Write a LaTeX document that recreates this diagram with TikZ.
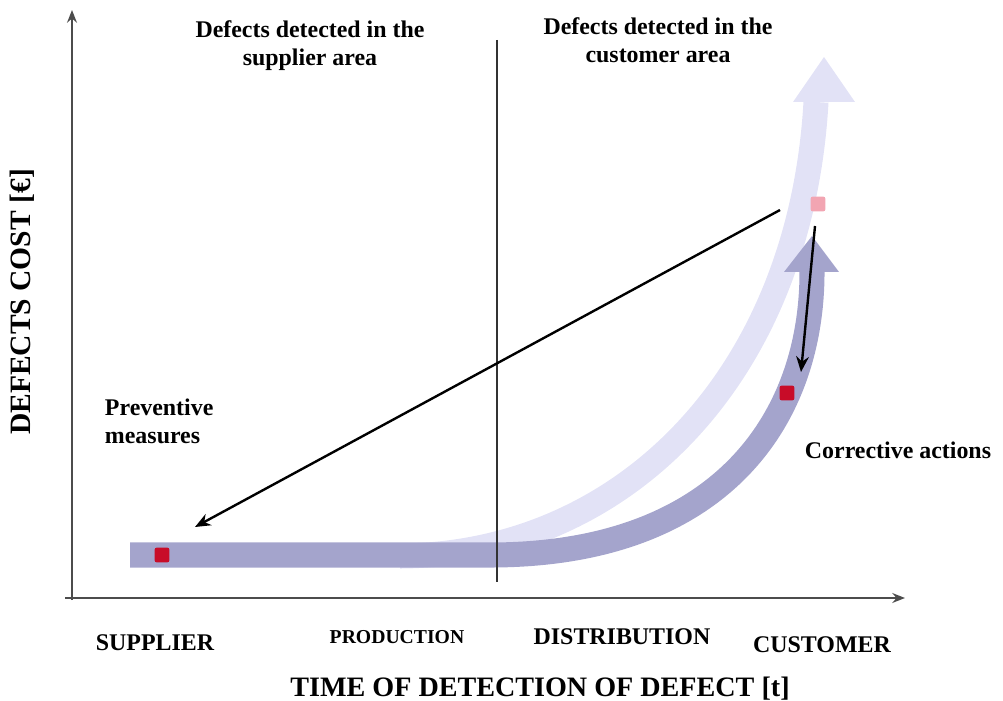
\documentclass[tikz,border=0pt]{standalone}
\usepackage{fontspec}
\setmainfont{Liberation Serif}
\usetikzlibrary{arrows.meta}
\definecolor{bandlight}{RGB}{226,226,246}
\definecolor{banddark}{RGB}{164,164,204}
\definecolor{defred}{RGB}{200,12,40}
\definecolor{defpink}{RGB}{242,165,178}
\tikzset{
  axis/.style={line width=1.4pt, color=black!70, -{Stealth[length=9pt,width=7pt]}},
  band/.style={line width=17.8pt},
  pointer/.style={line width=1.7pt, -{Stealth[length=11pt,width=9pt]}},
  marker/.style={rounded corners=1.5pt, minimum size=10.5pt, inner sep=0pt},
  lbl/.style={font=\bfseries\fontsize{17}{20}\selectfont, align=center}
}

\begin{document}
\begin{tikzpicture}[x=0.025cm, y=-0.025cm]
		%%%%% START %%%%%
		\useasboundingbox (0,0) rectangle (1003,701);
		
		% light curve (cost if found late)
		\draw[band, bandlight] (400,556) .. controls (620,555) and (800,380) .. (816,102);
		\fill[bandlight] (793,102) -- (824,57) -- (855,102) -- cycle;
		
		% dark curve (cost with prevention)
		\draw[band, banddark] (130,555) -- (490,555) .. controls (720,555) and (812,420) .. (812,272);
		\fill[banddark] (784,272) -- (812,236) -- (839,272) -- cycle;
		
		% axes and split line
		\draw[axis] (72,600) -- (72,10);
		\draw[axis] (65,598) -- (905,598);
		\draw[line width=1.4pt, color=black!80] (497,40) -- (497,582);
		
		% defect markers
		\node[marker, fill=defred] (sqsup) at (162,555) {};
		\node[marker, fill=defred] (sqcor) at (787,393) {};
		\node[marker, fill=defpink] (sqcus) at (818,204) {};
		
		\coordinate (prevstart) at (780,210);
		\coordinate (prevend) at (195,527);
		\coordinate (corstart) at (815,226);
		\coordinate (corend) at (801,372);
		\draw[pointer] (prevstart) -- (prevend);
		\draw[pointer] (corstart) -- (corend);
		
		% labels
		\node[lbl] (supArea) at (310,46) {Defects detected in the\\supplier area};
		\node[lbl] (cusArea) at (658,40) {Defects detected in the\\customer area};
		\node[lbl, align=left, anchor=west] (prev) at (100,421) {Preventive\\measures};
		\node[lbl, anchor=west] (corr) at (800,450) {Corrective actions};
		
		\node[lbl] (supplier) at (155,643) {SUPPLIER};
		\node[lbl, font=\bfseries\fontsize{14}{16}\selectfont] (production) at (397,637) {PRODUCTION};
		\node[lbl] (distribution) at (622,637) {DISTRIBUTION};
		\node[lbl] (customer) at (822,645) {CUSTOMER};
		
		\node[lbl, font=\bfseries\fontsize{20}{24}\selectfont] (xlabel) at (540,689) {TIME OF DETECTION OF DEFECT [t]};
		\node[lbl, font=\bfseries\fontsize{21}{24}\selectfont, rotate=90] (ylabel) at (22,302) {DEFECTS COST [€]};
		%%%%% END %%%%%
	\end{tikzpicture}
\end{document}
